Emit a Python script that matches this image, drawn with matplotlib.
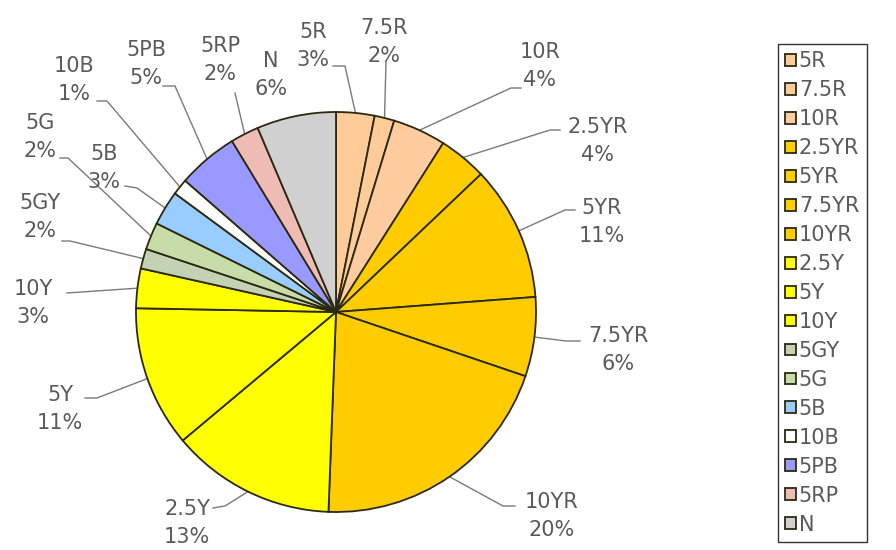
import matplotlib
matplotlib.use('Agg')
import matplotlib.pyplot as plt
import numpy as np

# ---- data ----
categories = ['5R', '7.5R', '10R', '2.5YR', '5YR', '7.5YR', '10YR', '2.5Y', '5Y',
              '10Y', '5GY', '5G', '5B', '10B', '5PB', '5RP', 'N']
shares = [3.1, 1.6, 4.3, 3.9, 10.9, 6.4, 20.4, 13.3, 11.4,
          3.2, 1.6, 2.2, 2.8, 1.3, 4.9, 2.3, 6.4]
colors = ['#FFCC99', '#FFCC99', '#FFCCA0', '#FFCC00', '#FFCC00', '#FFCC00', '#FFCC00',
          '#FFFF00', '#FFFF00', '#FFFF00', '#C4D2B4', '#C8DCA8', '#99CCFF', '#FFFFFF',
          '#9999FF', '#EEBCB4', '#D0D0D0']

# ---- layout (pixel coords, y from top) ----
label_pos = [(313, 46), (384, 42), (540, 66), (598, 141), (602, 222), (618, 350),
             (552, 516), (187, 523), (60, 409), (33, 303), (40, 217), (40, 137),
             (104, 168), (74, 80), (146, 64), (220, 60), (271, 75)]
leader_start = [(333, 66), (386, 62), (521, 88), (560, 130), (575, 210), (580, 341),
                (515, 506), (213, 508), (85, 398), (67, 293), (62, 241), (60, 158),
                (125, 186), (97, 101), (163, 86), (235, 93), None]
leader_elbow = [(345, 66), None, (511, 88), (550, 130), (565, 210), (566, 341),
                (503, 506), (225, 506), (97, 398), None, (70, 241), (68, 158),
                (137, 188), (107, 101), (175, 86), None, None]

W, H = 896, 550
fig = plt.figure(figsize=(W / 100, H / 100), dpi=100)
ax = fig.add_axes([0, 0, 1, 1])

cx, cy, R = 336, 312, 200
wedges, _ = ax.pie(shares, colors=colors, startangle=90, counterclock=False,
                   center=(cx, H - cy), radius=R,
                   wedgeprops=dict(edgecolor='#2b2a10', linewidth=1.3))
ax.set_xlim(0, W)
ax.set_ylim(0, H)
ax.set_aspect('equal')
ax.axis('off')

total = sum(shares)
txt_color = '#5a5a5a'
for i, (w, name) in enumerate(zip(wedges, categories)):
    pct = round(shares[i] / total * 100)
    lx, ly = label_pos[i]
    ax.text(lx, H - ly, f"{name}\n{pct}%", ha='center', va='center',
            fontsize=15, color=txt_color, linespacing=1.5,
            fontfamily='DejaVu Sans')
    if leader_start[i] is None:
        continue
    mid = np.deg2rad((w.theta1 + w.theta2) / 2)
    axp = cx + R * np.cos(mid)
    ayp = H - cy + R * np.sin(mid)
    xs = [leader_start[i][0]]
    ys = [H - leader_start[i][1]]
    if leader_elbow[i] is not None:
        xs.append(leader_elbow[i][0])
        ys.append(H - leader_elbow[i][1])
    xs.append(axp)
    ys.append(ayp)
    ax.plot(xs, ys, color='#7a7a7a', linewidth=1.0, zorder=0.5)

leg = ax.legend(wedges, categories, loc='upper left',
                bbox_to_anchor=(778 / W, 1 - 44 / H), bbox_transform=fig.transFigure,
                frameon=True, fancybox=False, edgecolor='black', fontsize=15,
                handlelength=0.5, handleheight=0.5, handletextpad=0.15,
                labelspacing=0.43, borderpad=0.35, borderaxespad=0)
leg.get_frame().set_linewidth(1.0)
for t in leg.get_texts():
    t.set_color(txt_color)

fig.savefig('out.png', dpi=100, facecolor='white')
